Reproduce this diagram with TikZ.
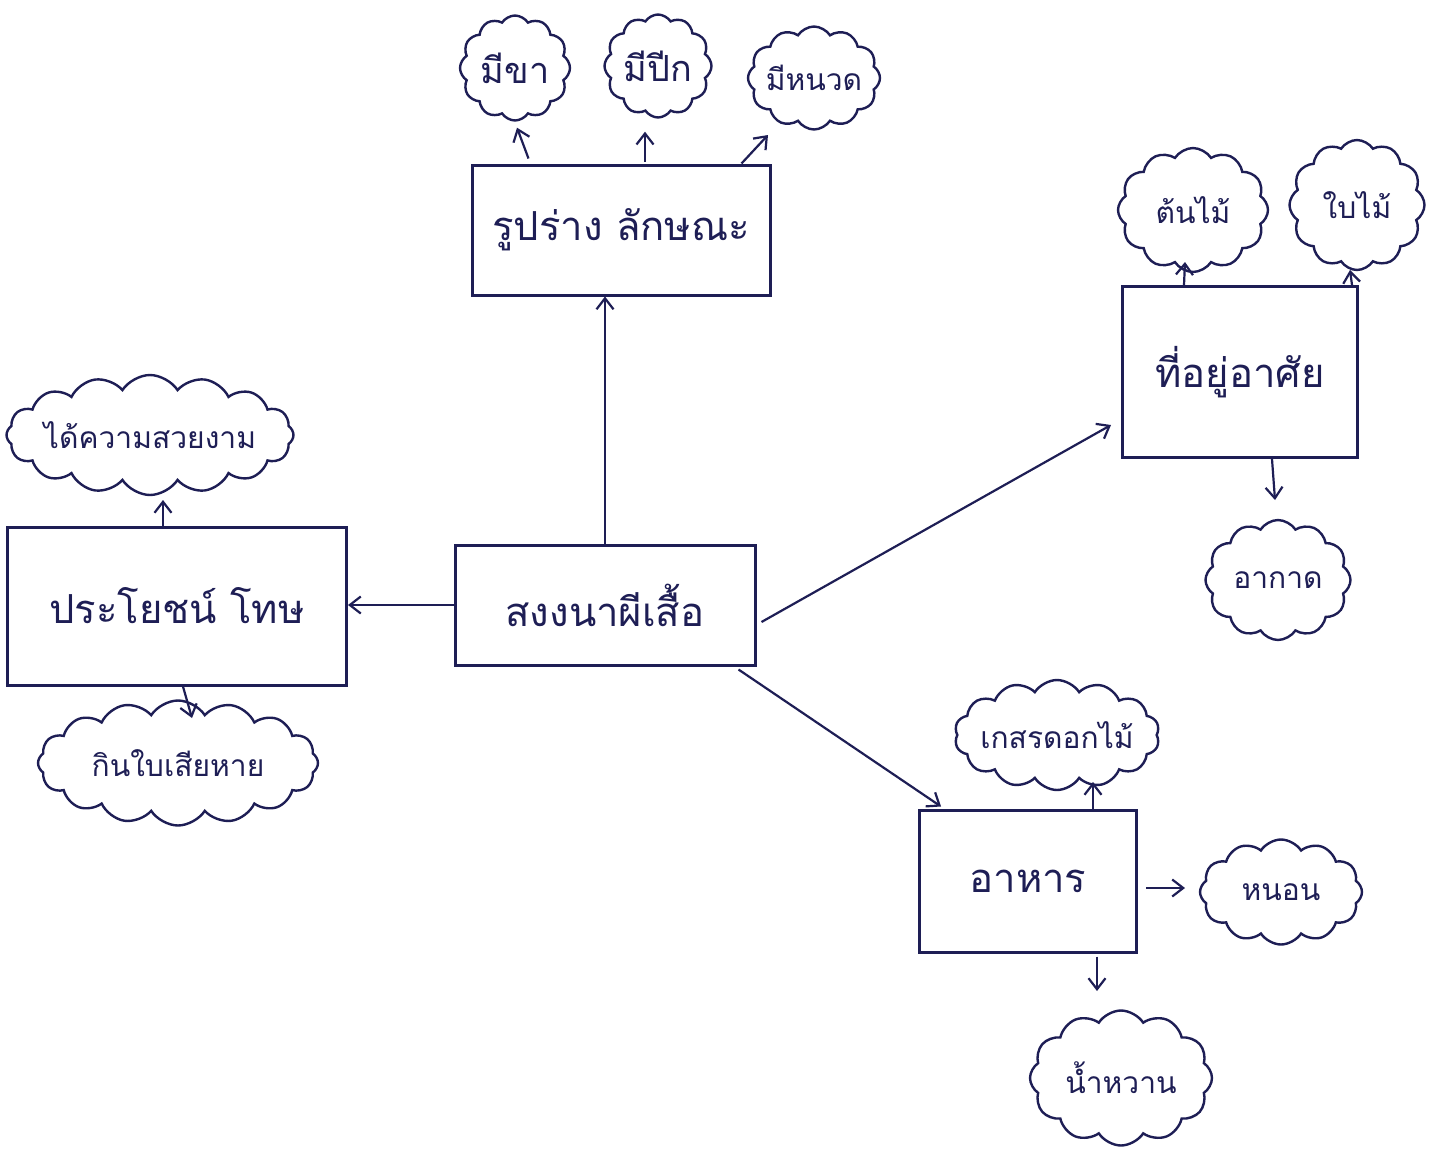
\documentclass[tikz,border=0pt]{standalone}
\usepackage{fontspec}
\newfontfamily\thaifont[Script=Thai]{Loma}
\usetikzlibrary{shapes.symbols,arrows.meta}
\definecolor{ink}{RGB}{30,30,85}
\begin{document}
\begin{tikzpicture}[x=1pt,y=-1pt,
  box/.style={draw=ink, line width=3pt, rectangle, text=ink, inner sep=0pt,
    font=\thaifont\fontsize{40}{42}\selectfont},
  puff/.style={cloud, draw=ink, line width=2.4pt, cloud puffs=12, cloud puff arc=115,
    inner sep=0pt},
  ctext/.style={text=ink, inner sep=0pt, font=\thaifont\fontsize{30}{32}\selectfont},
  bigtext/.style={ctext, font=\thaifont\fontsize{36}{38}\selectfont},
  arr/.style={draw=ink, line width=2.2pt, -{Straight Barb[length=11pt,width=17pt]}}]
\fill[white] (0,0) rectangle (1444,1160);
\useasboundingbox (0,0) rectangle (1444,1160);

% boxes
\node[box, minimum width=300pt, minimum height=120pt] (c) at (605,605) {สงงนาผีเสื้อ};
\node[box, minimum width=298pt, minimum height=130pt] (t) at (621,230) {รูปร่าง ลักษณะ};
\node[box, minimum width=235pt, minimum height=171pt] (h) at (1240,372) {ที่อยู่อาศัย};
\node[box, minimum width=217pt, minimum height=142pt] (f) at (1028,881) {อาหาร};
\node[box, minimum width=339pt, minimum height=158pt] (l) at (177,606) {ประโยชน์ โทษ};

% clouds (outline) and their texts
\node[puff, minimum width=110pt, minimum height=105pt] (k1) at (515,68) {};
\node[bigtext] (k1t) at (k1) {มีขา};
\node[puff, minimum width=107pt, minimum height=103pt] (k2) at (658,66) {};
\node[bigtext] (k2t) at (k2) {มีปีก};
\node[puff, minimum width=132pt, minimum height=103pt] (k3) at (814,78) {};
\node[ctext] (k3t) at (k3) {มีหนวด};
\node[puff, minimum width=150pt, minimum height=124pt] (k4) at (1193,210) {};
\node[ctext] (k4t) at (k4) {ต้นไม้};
\node[puff, minimum width=135pt, minimum height=130pt] (k5) at (1357,205) {};
\node[ctext] (k5t) at (k5) {ใบไม้};
\node[puff, minimum width=145pt, minimum height=120pt] (k6) at (1278,580) {};
\node[ctext] (k6t) at (k6) {อากาด};
\node[puff, cloud puffs=16, minimum width=287pt, minimum height=120pt] (k7) at (150,435) {};
\node[ctext] (k7t) at (k7) {ได้ความสวยงาม};
\node[puff, cloud puffs=16, minimum width=280pt, minimum height=125pt] (k8) at (178,763) {};
\node[ctext] (k8t) at (k8) {กินใบเสียหาย};
\node[puff, cloud puffs=14, minimum width=205pt, minimum height=110pt] (k9) at (1057,735) {};
\node[ctext] (k9t) at (k9) {เกสรดอกไม้};
\node[puff, minimum width=162pt, minimum height=105pt] (k10) at (1281,892) {};
\node[ctext] (k10t) at (k10) {หนอน};
\node[puff, minimum width=182pt, minimum height=135pt] (k11) at (1121,1078) {};
\node[ctext] (k11t) at (k11) {น้ำหวาน};

% main connectors
\draw[arr] (c.north) -- (c.north |- t.south);
\draw[arr] (c.west) -- (c.west -| l.east);
\draw[arr] ([xshift=5pt,yshift=-17pt]c.east) -- ([xshift=-10pt,yshift=-53pt]h.west);
\draw[arr] ([xshift=-18pt,yshift=-3pt]c.south east) -- ([xshift=23pt,yshift=2pt]f.north west);

% top box to clouds
\draw[arr] ([xshift=58pt,yshift=5pt]t.north west) -- ([xshift=2pt,yshift=-6pt]k1.south);
\draw[arr] ([xshift=24pt,yshift=2pt]t.north) -- ([xshift=-13pt,yshift=-13pt]k2.south);
\draw[arr] ([xshift=-30pt]t.north east) -- ([xshift=-46pt,yshift=-57pt]k3.center);

% habitat
\draw[arr] ([xshift=63pt]h.north west) -- ([xshift=-8pt,yshift=-52pt]k4.center);
\draw[arr] ([xshift=-7pt]h.north east) -- ([xshift=-7pt,yshift=-65pt]k5.center);
\draw[arr] ([xshift=32pt]h.south) -- ([xshift=-3pt,yshift=80pt]k6.center);

% left box
\draw[arr] ([xshift=-14pt]l.north) -- ([xshift=13pt,yshift=-65pt]k7.center);
\draw[arr] ([xshift=6pt]l.south) -- ([xshift=14pt,yshift=45pt]k8.center);

% food
\draw[arr] ([xshift=65pt]f.north) -- ([xshift=36pt,yshift=-47pt]k9.center);
\draw[arr] ([xshift=8pt,yshift=-7pt]f.east) -- ([xshift=-96pt,yshift=4pt]k10.center);
\draw[arr] ([xshift=69pt,yshift=-3pt]f.south) -- ([xshift=-24pt,yshift=87pt]k11.center);
\end{tikzpicture}
\end{document}
